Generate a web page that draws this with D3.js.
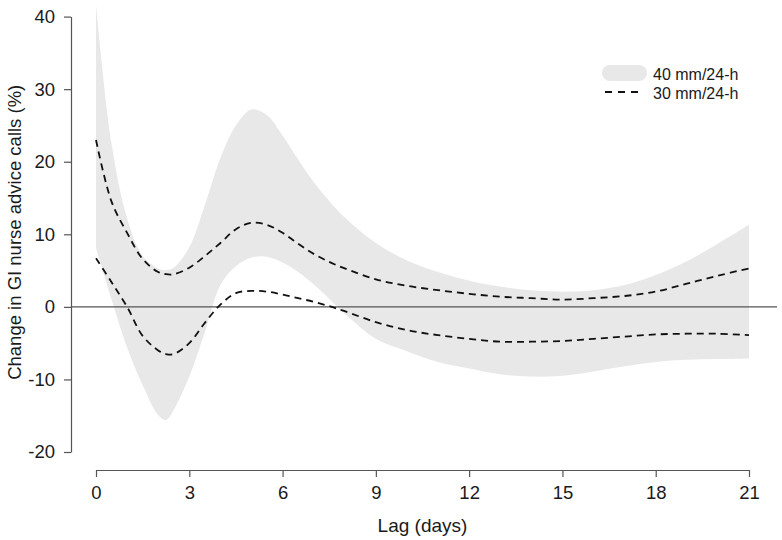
<!DOCTYPE html>
<html><head><meta charset="utf-8">
<script src="https://cdn.jsdelivr.net/npm/d3@7"></script>
<style>
body{margin:0;background:#fff}
svg{display:block}
text{font-family:"Liberation Sans",Arial,sans-serif;fill:#1a1a1a}
</style>
</head><body>
<svg id="c" width="782" height="540"></svg>
<script>
// ---- data ----
const lags        = [0, 0.5, 1, 1.5, 2, 2.25, 2.5, 3, 3.5, 4, 4.5, 5, 5.5, 6, 6.5, 7, 7.5, 8, 9, 10, 11, 12, 13, 14, 15, 16, 17, 18, 19, 20, 21];
const band40Upper = [41.6, 22.5, 12.2, 7.0, 5.3, 5.1, 5.4, 8.2, 14.0, 20.5, 25.0, 27.2, 26.4, 23.6, 20.3, 17.2, 14.6, 12.3, 8.8, 6.4, 4.8, 3.6, 2.8, 2.3, 2.1, 2.3, 3.0, 4.4, 6.3, 8.7, 11.3];
const band40Lower = [8.1, 1.0, -5.6, -10.8, -14.9, -15.6, -14.2, -9.6, -3.5, 3.0, 5.6, 6.8, 6.9, 6.1, 4.8, 3.1, 1.1, -0.9, -4.4, -6.1, -7.6, -8.5, -9.3, -9.6, -9.5, -8.9, -8.2, -7.6, -7.3, -7.2, -7.1];
const dash30Upper = [23.0, 14.5, 10.2, 6.6, 4.8, 4.5, 4.5, 5.4, 7.0, 8.8, 10.7, 11.6, 11.3, 10.2, 8.7, 7.3, 6.2, 5.3, 3.8, 2.9, 2.3, 1.8, 1.4, 1.2, 1.0, 1.2, 1.5, 2.1, 3.2, 4.3, 5.3];
const dash30Lower = [6.7, 3.4, 0.0, -4.0, -6.0, -6.5, -6.5, -5.0, -2.2, 0.3, 1.9, 2.2, 2.1, 1.7, 1.2, 0.7, 0.1, -0.6, -2.1, -3.2, -3.9, -4.4, -4.8, -4.8, -4.7, -4.4, -4.1, -3.8, -3.7, -3.7, -3.9];
const xTicks = [0, 3, 6, 9, 12, 15, 18, 21];
const yTicks = [-20, -10, 0, 10, 20, 30, 40];
const legendLabels = ["40 mm/24-h", "30 mm/24-h"];
const xTitle = "Lag (days)";
const yTitle = "Change in GI nurse advice calls (%)";

// ---- layout ----
const svg = d3.select("#c");
const x = d3.scaleLinear().domain([0, 21]).range([96, 749]);
const y = d3.scaleLinear().domain([-20, 40]).range([452, 16.6]);
const axisColor = "#555";
const bandColor = "#e8e8e8";
const fontFam = "'Liberation Sans', Arial, sans-serif";

const rows = lags.map((l, i) => ({l, bu: band40Upper[i], bl: band40Lower[i], du: dash30Upper[i], dl: dash30Lower[i]}));
const curve = d3.curveCatmullRom.alpha(0.5);

// band
svg.append("path")
  .datum(rows)
  .attr("fill", bandColor)
  .attr("d", d3.area().curve(curve).x(d => x(d.l)).y0(d => y(d.bl)).y1(d => y(d.bu)));

// zero line
svg.append("line")
  .attr("x1", 71).attr("x2", 777)
  .attr("y1", y(0)).attr("y2", y(0))
  .attr("stroke", axisColor).attr("stroke-width", 1.2);

// dashed lines
const dashLine = key => d3.line().curve(curve).x(d => x(d.l)).y(d => y(d[key]));
["du", "dl"].forEach(k => {
  svg.append("path").datum(rows)
    .attr("fill", "none").attr("stroke", "#111").attr("stroke-width", 1.8)
    .attr("stroke-dasharray", "7,5")
    .attr("d", dashLine(k));
});

// axes
const yAxis = svg.append("g").attr("transform", "translate(71,0)")
  .call(d3.axisLeft(y).tickValues(yTicks).tickSize(7).tickSizeOuter(0).tickPadding(9).tickFormat(d => String(d)));
const xAxis = svg.append("g").attr("transform", "translate(0,470)")
  .call(d3.axisBottom(x).tickValues(xTicks).tickSize(7).tickSizeOuter(0).tickPadding(9).tickFormat(d => String(d)));
[yAxis, xAxis].forEach(g => {
  g.select(".domain").attr("stroke", axisColor).attr("stroke-width", 1.2);
  g.selectAll(".tick line").attr("stroke", axisColor).attr("stroke-width", 1.2);
  g.selectAll(".tick text").attr("fill", "#1a1a1a").style("font-size", "18.5px")
    .style("font-family", fontFam);
});

// titles
svg.append("text").attr("x", x(10.5)).attr("y", 532)
  .attr("text-anchor", "middle").style("font-size", "19px").text(xTitle);
svg.append("text").attr("transform", `translate(21,${(16.6 + 452) / 2 - 2}) rotate(-90)`)
  .attr("text-anchor", "middle").style("font-size", "18.5px").text(yTitle);

// legend
const lg = svg.append("g");
lg.append("line").attr("x1", 610).attr("x2", 639).attr("y1", 73).attr("y2", 73)
  .attr("stroke", bandColor).attr("stroke-width", 16).attr("stroke-linecap", "round");
lg.append("line").attr("x1", 605).attr("x2", 639).attr("y1", 92).attr("y2", 92)
  .attr("stroke", "#111").attr("stroke-width", 1.8).attr("stroke-dasharray", "7,6");
legendLabels.forEach((t, i) => {
  lg.append("text").attr("x", 653).attr("y", 74 + i * 19).attr("dy", "0.35em")
    .style("font-size", "16px").text(t);
});
</script>
</body></html>
